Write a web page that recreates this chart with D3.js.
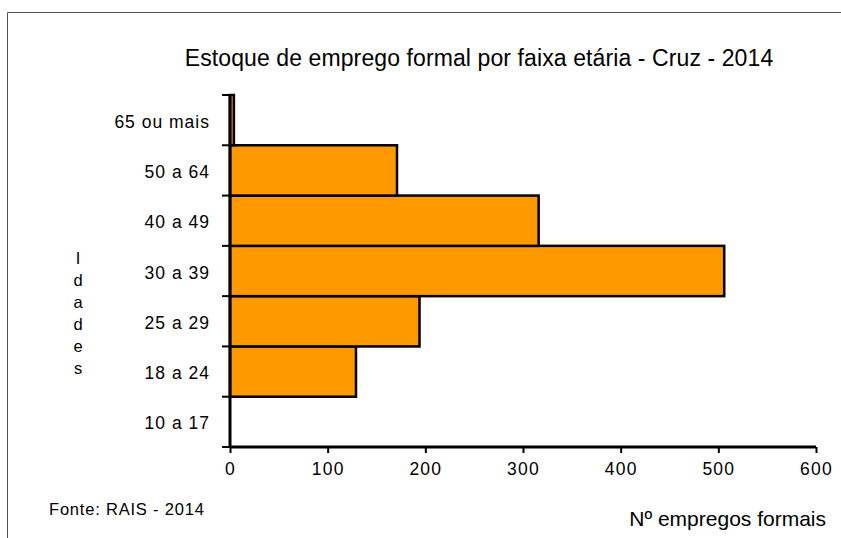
<!DOCTYPE html>
<html>
<head>
<meta charset="utf-8">
<script src="https://cdn.jsdelivr.net/npm/d3@7"></script>
<style>
  body { margin: 0; background: #fff; }
  svg text { font-family: "Liberation Sans", Arial, sans-serif; fill: #000; }
</style>
</head>
<body>
<div id="chart"></div>
<script>
const faixas = ["10 a 17", "18 a 24", "25 a 29", "30 a 39", "40 a 49", "50 a 64", "65 ou mais"];
const empregos = [0, 129, 194, 506, 316, 171, 4];
const xTicks = [0, 100, 200, 300, 400, 500, 600];

const width = 841, height = 538;
const svg = d3.select("#chart").append("svg")
  .attr("width", width)
  .attr("height", height);

// moldura (only top and left visible)
svg.append("path")
  .attr("d", `M7.5,${height} V12.5 H${width}`)
  .attr("fill", "none")
  .attr("stroke", "#555")
  .attr("stroke-width", 1);

const x = d3.scaleLinear().domain([0, 600]).range([230, 816]);
const y = d3.scaleBand().domain(faixas).range([447, 95]).padding(0);

const data = faixas.map((f, i) => ({ faixa: f, valor: empregos[i] }));

// bars: orange shadow slightly offset, then outlined bar
svg.selectAll("rect.sombra")
  .data(data)
  .enter()
  .append("rect")
  .attr("class", "sombra")
  .attr("x", x(0) + 1)
  .attr("y", d => y(d.faixa) + 1)
  .attr("width", d => x(d.valor) - x(0))
  .attr("height", y.bandwidth())
  .attr("fill", "#FF9900");

svg.selectAll("rect.barra")
  .data(data)
  .enter()
  .append("rect")
  .attr("class", "barra")
  .attr("x", x(0))
  .attr("y", d => y(d.faixa))
  .attr("width", d => x(d.valor) - x(0))
  .attr("height", y.bandwidth())
  .attr("fill", "#FF9900")
  .attr("stroke", "#000")
  .attr("stroke-width", 2.5);

// x axis
const xAxis = svg.append("g")
  .attr("transform", "translate(0,447)")
  .call(d3.axisBottom(x).tickValues(xTicks).tickSize(6).tickPadding(10).tickFormat(d3.format("d")));
xAxis.select(".domain").attr("stroke", "#000").attr("stroke-width", 3)
  .attr("d", `M${x(0)},0H${x(600)}`);
xAxis.selectAll(".tick line").attr("stroke", "#000").attr("stroke-width", 2);
xAxis.selectAll(".tick text")
  .attr("font-size", 17.5)
  .attr("letter-spacing", 1.2)
  .attr("font-family", "Liberation Sans, Arial, sans-serif");

// y axis: line and ticks at band boundaries
const fronteiras = faixas.map(f => y(f) + y.bandwidth()).concat([y(faixas[faixas.length - 1])]);
svg.append("line")
  .attr("x1", x(0)).attr("x2", x(0))
  .attr("y1", 95).attr("y2", 448)
  .attr("stroke", "#000").attr("stroke-width", 3);
svg.selectAll("line.ytick")
  .data(fronteiras)
  .enter()
  .append("line")
  .attr("class", "ytick")
  .attr("x1", 222).attr("x2", x(0))
  .attr("y1", d => d).attr("y2", d => d)
  .attr("stroke", "#000").attr("stroke-width", 2);

svg.selectAll("text.faixa")
  .data(faixas)
  .enter()
  .append("text")
  .attr("class", "faixa")
  .attr("x", 210)
  .attr("y", d => y(d) + y.bandwidth() / 2 + 3)
  .attr("text-anchor", "end")
  .attr("dominant-baseline", "middle")
  .attr("font-size", 17.5)
  .attr("letter-spacing", 1)
  .text(d => d);

// title
svg.append("text")
  .attr("x", 479)
  .attr("y", 66)
  .attr("text-anchor", "middle")
  .attr("font-size", 23)
  .attr("letter-spacing", 0.1)
  .text("Estoque de emprego formal por faixa etária - Cruz - 2014");

// vertical "Idades"
svg.selectAll("text.idades")
  .data("Idades".split(""))
  .enter()
  .append("text")
  .attr("class", "idades")
  .attr("x", 78)
  .attr("y", (d, i) => 264 + i * 22)
  .attr("text-anchor", "middle")
  .attr("font-size", 16.5)
  .text(d => d);

svg.append("text")
  .attr("x", 49)
  .attr("y", 515)
  .attr("font-size", 16.5)
  .attr("letter-spacing", 0.8)
  .text("Fonte: RAIS - 2014");

svg.append("text")
  .attr("x", 826)
  .attr("y", 526)
  .attr("text-anchor", "end")
  .attr("font-size", 21)
  .attr("letter-spacing", 0)
  .text("Nº empregos formais");
</script>
</body>
</html>
